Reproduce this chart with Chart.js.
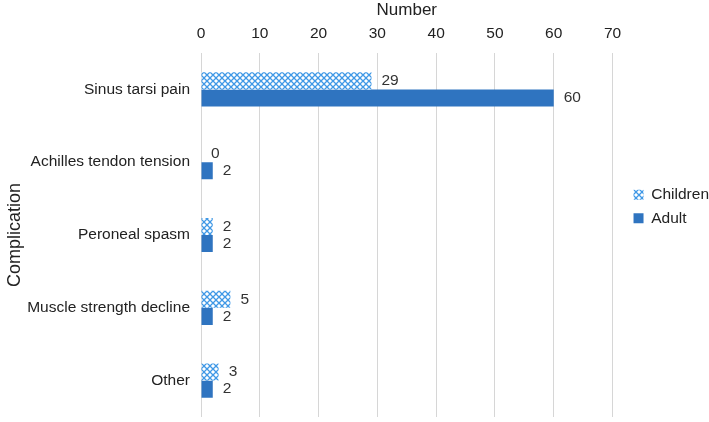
<!DOCTYPE html>
<html>
<head>
<meta charset="utf-8">
<script src="https://cdn.jsdelivr.net/npm/chart.js@4"></script>
<style>
html,body{margin:0;padding:0;background:#fff;}
#wrap{width:709px;height:422px;}
</style>
</head>
<body>
<div id="wrap"><canvas id="c" width="709" height="422"></canvas></div>
<script>
const categories = ["Sinus tarsi pain", "Achilles tendon tension", "Peroneal spasm", "Muscle strength decline", "Other"];
const childrenValues = [29, 0, 2, 5, 3];
const adultValues = [60, 2, 2, 2, 2];
const xTicks = [0, 10, 20, 30, 40, 50, 60, 70];

function makePattern() {
  const p = document.createElement('canvas');
  p.width = 6; p.height = 6;
  const g = p.getContext('2d');
  g.fillStyle = '#ffffff';
  g.fillRect(0, 0, 6, 6);
  g.strokeStyle = '#3f98e6';
  g.lineWidth = 1.3;
  g.beginPath();
  g.moveTo(0, 0); g.lineTo(6, 6);
  g.moveTo(6, 0); g.lineTo(0, 6);
  g.stroke();
  return document.getElementById('c').getContext('2d').createPattern(p, 'repeat');
}

const labelPlugin = {
  id: 'valueLabels',
  afterDatasetsDraw(chart) {
    const ctx = chart.ctx;
    ctx.save();
    ctx.font = '15.5px "Liberation Sans", Arial, sans-serif';
    ctx.fillStyle = '#333333';
    ctx.textAlign = 'left';
    ctx.textBaseline = 'middle';
    chart.data.datasets.forEach((ds, di) => {
      const meta = chart.getDatasetMeta(di);
      meta.data.forEach((el, i) => {
        ctx.fillText(String(ds.data[i]), el.x + 10, el.y);
      });
    });
    ctx.restore();
  }
};

// nudge the legend box a little, leaving a wider gap after the plot
const legendShift = {
  id: 'legendShift',
  afterLayout(chart) {
    const lg = chart.legend;
    if (lg) { lg.left += 13; lg.right += 13; lg.top -= 2; lg.bottom -= 2; }
  }
};

Chart.defaults.font.family = '"Liberation Sans", Arial, sans-serif';
Chart.defaults.font.size = 15.5;
Chart.defaults.color = '#222222';

new Chart(document.getElementById('c'), {
  type: 'bar',
  data: {
    labels: categories,
    datasets: [
      { label: 'Children', data: childrenValues, backgroundColor: makePattern(), borderWidth: 0,
        barPercentage: 1.0, categoryPercentage: 0.47 },
      { label: 'Adult', data: adultValues, backgroundColor: '#2f74c0', borderWidth: 0,
        barPercentage: 1.0, categoryPercentage: 0.47 }
    ]
  },
  options: {
    indexAxis: 'y',
    responsive: false,
    animation: false,
    layout: { padding: { top: 0, right: 3, bottom: 5, left: 0 } },
    plugins: {
      legend: {
        position: 'right',
        labels: { boxWidth: 10, boxHeight: 10, padding: 8, color: '#222', font: { size: 15.5 } }
      },
      tooltip: { enabled: false }
    },
    scales: {
      x: {
        position: 'top',
        min: 0, max: 70,
        afterBuildTicks(axis) { axis.ticks = xTicks.map(v => ({ value: v })); },
        ticks: { padding: 10, color: '#222', font: { size: 15.5 } },
        grid: { color: '#d6d6d6', drawTicks: false, lineWidth: 1 },
        border: { display: false },
        title: { display: true, text: 'Number', color: '#222', font: { size: 17 }, padding: { top: 0, bottom: -6 } }
      },
      y: {
        afterFit(scale) { scale.width = 201; scale.paddingTop = 0; scale.paddingBottom = 0; },
        grid: { display: false, drawTicks: false },
        border: { display: false },
        ticks: { padding: 11, color: '#222', font: { size: 15.5 } },
        title: { display: true, text: 'Complication', color: '#222', font: { size: 18 }, padding: { top: 4, bottom: 2 } }
      }
    }
  },
  plugins: [labelPlugin, legendShift]
});
</script>
</body>
</html>
